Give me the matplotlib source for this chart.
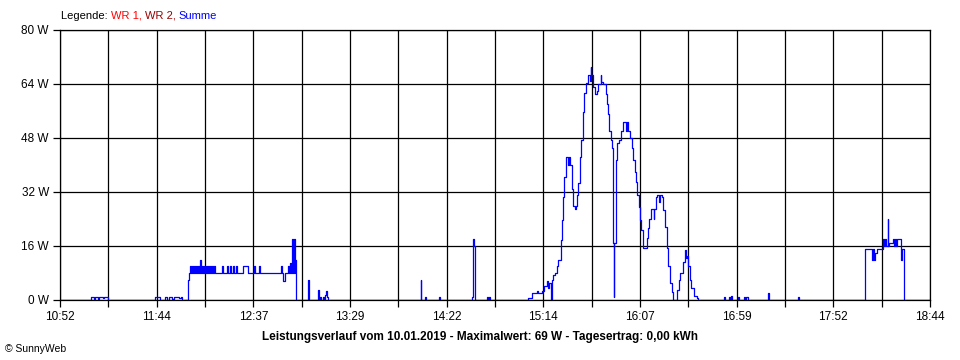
import numpy as np
import matplotlib
matplotlib.use("Agg")
from matplotlib import pyplot as plt

# time in minutes after midnight, power in W (step values, hold until next time)
sum_time = [
    652.0, 668.8, 670.4, 671.0, 672.6, 673.2, 675.5, 676.0, 678.0,
    703.5, 706.2, 709.0, 710.3, 711.4, 713.0, 713.6, 716.5, 717.5, 718.2,
    721.6, 722.1, 722.6, 723.1, 723.6, 724.2, 724.7, 725.3, 725.8, 726.4, 726.9,
    727.5, 728.0, 728.4, 729.0, 729.6, 730.1, 730.7, 731.2, 731.8, 732.3, 732.9,
    733.4, 734.0, 734.5, 735.1, 735.6, 736.2,
    739.7, 740.2, 742.4, 742.9, 744.2, 744.7, 746.0, 746.5, 747.4, 747.9,
    751.5, 754.2, 757.2, 757.7, 760.1, 760.6, 772.1, 772.6, 773.1, 774.1,
    775.9, 776.4, 776.8, 777.3, 778.0, 778.5, 778.8, 779.3, 779.6, 780.0,
    786.7, 787.1, 792.0, 792.5, 793.3, 793.8, 794.8, 795.3, 795.9, 796.4, 797.0, 797.5,
    847.7, 848.1, 850.0, 850.5, 857.6, 858.0,
    875.4, 876.1, 876.6, 877.0, 883.5, 884.0, 884.6, 885.3,
    906.1, 907.9, 910.6, 911.5, 913.3, 914.6, 916.0, 916.9, 917.4, 918.2, 918.7,
    919.6, 920.5, 921.4, 922.3, 923.6, 924.5, 925.0, 925.6, 926.3, 927.6, 927.9,
    928.7, 929.6, 930.3, 931.4, 932.0, 932.3, 933.2, 934.1, 934.8, 935.6, 936.3,
    937.2, 938.4, 939.5, 939.9, 940.3, 941.3, 942.2, 943.3, 944.0, 945.3, 945.7,
    946.7, 948.0, 948.9, 949.4, 950.0, 950.7, 951.3, 952.0, 952.3, 952.8, 953.4,
    954.3, 955.3, 956.4, 957.3, 959.2, 959.5, 959.9, 960.3,
    961.2, 962.1, 963.0, 963.9, 964.5, 965.2, 966.1, 966.7, 967.4, 968.2, 968.5,
    970.3, 971.2, 971.7, 972.5, 974.0, 974.3, 975.4, 976.1, 977.0, 977.3, 978.4,
    979.3, 980.2, 981.1, 982.0, 982.9, 983.8, 984.7, 986.9, 988.0, 988.6, 989.2,
    990.1, 991.0, 991.6, 992.1, 992.8, 993.7, 994.6, 995.9, 997.4, 998.1,
    1012.4, 1012.9, 1015.0, 1015.5, 1016.0, 1016.6, 1019.8, 1020.3,
    1023.1, 1023.6, 1024.4, 1025.3, 1036.3, 1036.8, 1052.5, 1053.0,
    1088.9, 1092.5, 1093.1, 1093.6, 1094.3, 1095.4, 1098.5, 1099.0, 1099.6,
    1100.1, 1101.0, 1101.4, 1101.7, 1103.9, 1104.5, 1105.0, 1105.5, 1106.1,
    1108.1, 1108.8, 1110.0, 1124.0,
]
sum_watt = [
    0, 1, 0.3, 1, 0.3, 1, 0.5, 1, 0,
    1, 0, 1, 0, 1, 0.4, 1, 0.5, 1, 0,
    6, 8, 10, 8, 10, 8, 10, 8, 10, 8, 10,
    8, 12, 8, 10, 8, 10, 8, 10, 8, 10, 8,
    10, 8, 10, 8, 10, 8,
    10, 8, 10, 8, 10, 8, 10, 8, 10, 8,
    10, 8, 10, 8, 10, 8, 10, 8, 5.7, 8,
    10, 8, 11, 8, 18, 8, 18, 8, 12, 0,
    6, 0, 3, 0, 1, 0, 1, 0, 1.5, 2.8, 1, 0,
    6, 0, 1, 0, 1, 0,
    1, 18, 16, 0, 1, 0.3, 1, 0,
    0.7, 2, 2.8, 2, 2.8, 4.1, 5.7, 3.5, 5, 0, 6,
    7.4, 8, 10, 12, 17.8, 23.7, 30.6, 36.5, 42.5, 40, 42.5,
    40, 33, 28, 27, 28, 31, 34.6, 42.5, 47.4, 55.8, 61.2,
    64.2, 66.7, 65, 69, 66.7, 63, 61, 62, 64, 66.7, 64.5,
    64, 61, 58, 55, 50, 47.4, 45, 17, 1, 17, 41.5,
    46.4, 47.4, 50, 52.8, 50, 52.8, 50, 50,
    47.9, 45, 41.5, 38, 35, 31, 27.6, 23.7, 20.7, 17.3, 15.3,
    18.3, 21.2, 24, 27, 24, 27, 30.6, 31, 29, 31, 30.6,
    26.7, 21.7, 15.3, 10, 5, 2.5, 0, 3, 6, 8, 8,
    11.4, 14.8, 12.3, 13, 10, 6, 3.5, 1.3, 0.5, 0,
    1, 0, 1, 0.4, 1.3, 0, 1, 0,
    1, 0.4, 1, 0, 2.2, 0, 1, 0,
    15, 12, 15, 12, 14, 15, 18, 16, 18,
    16, 24, 16, 17, 18, 16, 18, 16, 18,
    12, 15, 0, 0,
]

x_labels = ["10:52", "11:44", "12:37", "13:29", "14:22",
            "15:14", "16:07", "16:59", "17:52", "18:44"]
y_labels = ["0 W", "16 W", "32 W", "48 W", "64 W", "80 W"]
t_start, t_end = 652, 1124
w_max = 80

plt.rcParams["font.family"] = ["Liberation Sans", "DejaVu Sans"]

fig = plt.figure(figsize=(9.6, 3.6), dpi=100)
ax = fig.add_axes([60 / 960, 60 / 360, 870 / 960, 270 / 360])

ax.step(sum_time, sum_watt, where="post", color="#0000ff", lw=0.9, zorder=2)

ax.set_xlim(t_start, t_end)
ax.set_ylim(0, w_max)
major = np.linspace(t_start, t_end, len(x_labels))
minor = np.linspace(t_start, t_end, 2 * len(x_labels) - 1)
ax.set_xticks(major)
ax.set_xticklabels(x_labels)
ax.set_xticks(minor, minor=True)
ax.set_yticks(np.linspace(0, w_max, len(y_labels)))
ax.set_yticklabels(y_labels)

ax.grid(True, which="both", axis="x", color="black", lw=0.9)
ax.grid(True, which="major", axis="y", color="black", lw=0.9)
ax.set_axisbelow(True)
for s in ax.spines.values():
    s.set_linewidth(0.9)
    s.set_zorder(3)

ax.tick_params(axis="both", which="both", direction="out", length=5, width=0.9,
               labelsize=8.5, pad=3, colors="black")
ax.tick_params(axis="x", which="both", top=False)
ax.tick_params(axis="y", which="minor", left=False)

# coloured legend line
fig.canvas.draw()
renderer = fig.canvas.get_renderer()
parts = [("Legende: ", "black"), ("WR 1, ", "#ff0000"), ("WR 2, ", "#990000"), ("Summe", "#0000ff")]
x_px = 61
for txt, col in parts:
    t = fig.text(x_px / 960, 1 - 16 / 360, txt, color=col, fontsize=8,
                 ha="left", va="center")
    x_px += t.get_window_extent(renderer).width

fig.text(480 / 960, 1 - 337 / 360,
         "Leistungsverlauf vom 10.01.2019 - Maximalwert: 69 W - Tagesertrag: 0,00 kWh",
         fontsize=8.5, fontweight="bold", ha="center", va="center")
fig.text(5 / 960, 1 - 349 / 360, "© SunnyWeb", fontsize=7.5, ha="left", va="center")

fig.savefig("out.png", dpi=100)
